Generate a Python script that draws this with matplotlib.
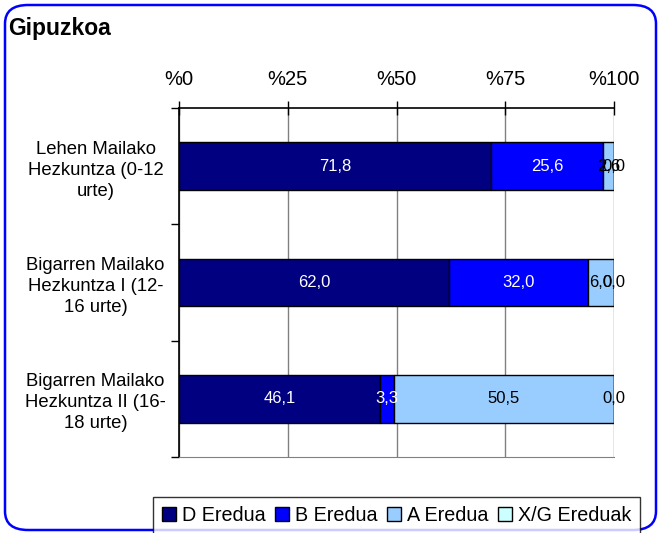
import matplotlib.pyplot as plt
from matplotlib.patches import FancyBboxPatch

plt.rcParams['font.family'] = ['Liberation Sans', 'DejaVu Sans']

categories = [
    "Lehen Mailako\nHezkuntza (0-12\nurte)",
    "Bigarren Mailako\nHezkuntza I (12-\n16 urte)",
    "Bigarren Mailako\nHezkuntza II (16-\n18 urte)",
]
series_names = ["D Eredua", "B Eredua", "A Eredua", "X/G Ereduak"]
d_eredua = [71.8, 62.0, 46.1]
b_eredua = [25.6, 32.0, 3.3]
a_eredua = [2.6, 6.0, 50.5]
xg_ereduak = [0.0, 0.0, 0.0]
tick_values = [0, 25, 50, 75, 100]
tick_labels = ["%0", "%25", "%50", "%75", "%100"]

colors = ["#000080", "#0000FF", "#99CCFF", "#CCFFFF"]
text_colors = ["white", "white", "black", "black"]

fig = plt.figure(figsize=(6.61, 5.33), dpi=100)
ax = fig.add_axes([0.2708, 0.1426, 0.6581, 0.6548])

# rounded blue frame round the whole chart
frame = FancyBboxPatch((5 / 661, 3 / 533), 651 / 661, 525 / 533,
                       boxstyle="round,pad=0,rounding_size=0.035",
                       transform=fig.transFigure, fill=False,
                       edgecolor="#0000FF", linewidth=1.8, zorder=0)
fig.patches.append(frame)

fig.text(8 / 661, 1 - 28 / 533, "Gipuzkoa", fontsize=16.5, fontweight="bold",
         va="center", ha="left")

ypos = list(range(len(categories)))
left = [0.0] * len(categories)
for name, vals, col, tcol in zip(series_names,
                                 [d_eredua, b_eredua, a_eredua, xg_ereduak],
                                 colors, text_colors):
    ax.barh(ypos, vals, left=left, height=0.41, color=col,
            edgecolor="black", linewidth=1.0, label=name, zorder=3)
    for y, v, l in zip(ypos, vals, left):
        ax.text(l + v / 2, y, f"{v:.1f}".replace(".", ","), ha="center",
                va="center", color=tcol, fontsize=12, zorder=4)
    left = [l + v for l, v in zip(left, vals)]

ax.set_xlim(0, 100)
ax.set_ylim(len(categories) - 0.5, -0.5)
ax.xaxis.tick_top()
ax.set_xticks(tick_values)
ax.set_xticklabels(tick_labels, fontsize=14.5)
ax.tick_params(axis="x", direction="inout", length=10, width=1.0, pad=9,
               colors="black")
ax.xaxis.grid(True, color="#808080", linewidth=1.0, zorder=1)

ax.set_yticks([y - 0.5 for y in ypos] + [len(categories) - 0.5])
ax.set_yticklabels([])
ax.set_yticks(ypos, minor=True)
ax.set_yticklabels(categories, minor=True, fontsize=13.3, ha="center",
                   multialignment="center", linespacing=1.3)
ax.tick_params(axis="y", which="minor", length=0, pad=60)
ax.tick_params(axis="y", which="major", direction="out", length=6, width=1.0)

ax.spines["right"].set_visible(False)
ax.spines["bottom"].set_color("#808080")
ax.spines["top"].set_linewidth(1.2)
ax.spines["left"].set_linewidth(1.2)

leg = fig.legend(loc="upper center", bbox_to_anchor=(396.5 / 661, 1 - 497 / 533),
                 ncol=4, frameon=True, fancybox=False, fontsize=14.2,
                 handlelength=0.7, handleheight=0.7, handletextpad=0.3,
                 columnspacing=0.5, borderpad=0.45, borderaxespad=0,
                 edgecolor="black")
leg.get_frame().set_linewidth(1.0)

fig.savefig("out.png", dpi=100)
